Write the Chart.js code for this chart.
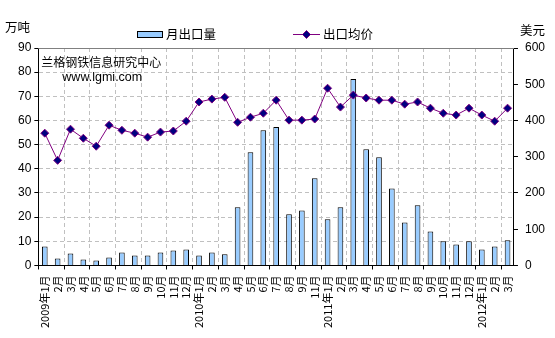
<!DOCTYPE html>
<html>
<head>
<meta charset="utf-8">
<script src="https://cdn.jsdelivr.net/npm/chart.js@4.4.1/dist/chart.umd.min.js"></script>
<style>
    html, body { margin: 0; padding: 0; background: #fff; }
</style>
</head>
<body>
<canvas id="myChart" width="555" height="338"></canvas>
<script>
// DONNEES DU GRAPHIQUE

var mois = ["2009年1月", "2月", "3月", "4月", "5月", "6月", "7月", "8月", "9月", "10月", "11月", "12月",
    "2010年1月", "2月", "3月", "4月", "5月", "6月", "7月", "8月", "9月", "11月",
    "2011年1月", "2月", "3月", "4月", "5月", "6月", "7月", "8月", "9月", "10月", "11月", "12月",
    "2012年1月", "2月", "3月"];

// 月出口量 (万吨)
var exportMois = [7.9, 2.9, 5.0, 2.5, 2.1, 3.3, 5.4, 4.1, 4.1, 5.4, 6.2, 6.6,
    4.1, 5.4, 4.6, 24.1, 46.9, 56.0, 57.3, 21.2, 22.8, 36.1,
    19.1, 24.1, 77.2, 48.1, 44.8, 31.9, 17.8, 24.9, 14.1, 10.0, 8.7, 10.0,
    6.6, 7.9, 10.4];

// 出口均价 (美元)
var prixMoyen = [365, 290, 376, 351, 329, 387, 373, 365, 354, 368, 371, 398,
    451, 459, 464, 395, 409, 420, 456, 401, 401, 404,
    489, 437, 470, 462, 456, 456, 445, 451, 434, 420, 415, 434,
    415, 398, 434];

var echelleGauche = [0, 90, 10];
var echelleDroite = [0, 600, 100];

var police = "'Noto Sans CJK SC', 'Liberation Sans', Arial, sans-serif";

// TEXTES EN PLUS : TITRES DES AXES, LEGENDE, FILIGRANE
var textesPlugin = {
    id: 'textes',
    afterDraw: function(chart) {
        var ctx = chart.ctx;
        var a = chart.chartArea;
        ctx.save();

        // bord du haut gris
        ctx.strokeStyle = '#808080';
        ctx.lineWidth = 1;
        ctx.beginPath();
        ctx.moveTo(a.left, Math.round(a.top) + 0.5);
        ctx.lineTo(a.right, Math.round(a.top) + 0.5);
        ctx.stroke();

        ctx.fillStyle = '#000';
        ctx.textBaseline = 'middle';
        ctx.textAlign = 'left';
        ctx.font = "12.5px " + police;
        ctx.fillText('万吨', 5, 27);
        ctx.fillText('美元', 520, 30);

        ctx.font = "12px " + police;
        ctx.fillText('兰格钢铁信息研究中心', a.left + 3, 62);
        ctx.font = "12.5px 'Liberation Sans', Arial, sans-serif";
        ctx.fillText('www.lgmi.com', a.left + 24, 78);

        // legende
        ctx.font = "12.5px " + police;
        ctx.fillStyle = '#99ccff';
        ctx.fillRect(137, 32, 25, 6);
        ctx.strokeStyle = '#000';
        ctx.strokeRect(137.5, 31.5, 25, 6);
        ctx.fillStyle = '#000';
        ctx.fillText('月出口量', 166, 34);

        ctx.strokeStyle = '#800080';
        ctx.beginPath();
        ctx.moveTo(293, 34.5);
        ctx.lineTo(320, 34.5);
        ctx.stroke();
        ctx.fillStyle = '#000080';
        ctx.beginPath();
        ctx.moveTo(306.5, 30.5);
        ctx.lineTo(310.5, 34.5);
        ctx.lineTo(306.5, 38.5);
        ctx.lineTo(302.5, 34.5);
        ctx.closePath();
        ctx.fill();
        ctx.stroke();
        ctx.fillStyle = '#000';
        ctx.fillText('出口均价', 323, 34);

        ctx.restore();
    }
};

// une ligne verticale sur deux
function grilleX(c) {
    return c.index % 2 === 0 ? '#c0c0c0' : 'rgba(0,0,0,0)';
}
function tickX(c) {
    return c.index % 2 === 0 ? '#000' : 'rgba(0,0,0,0)';
}

new Chart(document.getElementById("myChart"), {
    type: 'bar',
    data: {
        labels: mois,
        datasets: [{
            type: 'line',
            label: '出口均价',
            data: prixMoyen,
            yAxisID: 'y1',
            borderColor: '#800080',
            borderWidth: 1,
            tension: 0,
            pointStyle: 'rectRot',
            pointRadius: 4,
            pointBackgroundColor: '#000080',
            pointBorderColor: '#800080',
            pointBorderWidth: 1,
            order: 1
        }, {
            type: 'bar',
            label: '月出口量',
            data: exportMois,
            yAxisID: 'y',
            backgroundColor: '#99ccff',
            borderColor: '#000',
            borderWidth: 1,
            barPercentage: 0.44,
            categoryPercentage: 1,
            order: 2
        }]
    },
    options: {
        responsive: false,
        animation: false,
        layout: {
            padding: { top: 48, left: 15, right: 3, bottom: 4 }
        },
        plugins: {
            legend: { display: false },
            tooltip: { enabled: false }
        },
        scales: {
            x: {
                offset: true,
                grid: {
                    offset: true,
                    color: grilleX,
                    tickColor: tickX,
                    tickLength: 4
                },
                border: { color: '#000', dash: [4, 3] },
                ticks: {
                    autoSkip: false,
                    minRotation: 90,
                    maxRotation: 90,
                    padding: 6,
                    color: '#000',
                    font: { family: police, size: 11 }
                }
            },
            y: {
                position: 'left',
                min: echelleGauche[0],
                max: echelleGauche[1],
                grid: {
                    color: '#c0c0c0',
                    tickColor: '#000',
                    tickLength: 4
                },
                border: { color: '#000', dash: [4, 3] },
                ticks: {
                    stepSize: echelleGauche[2],
                    padding: 3,
                    color: '#000',
                    font: { family: "'Liberation Sans', Arial, sans-serif", size: 12 }
                }
            },
            y1: {
                position: 'right',
                min: echelleDroite[0],
                max: echelleDroite[1],
                grid: {
                    drawOnChartArea: false,
                    tickColor: '#000',
                    tickLength: 4
                },
                border: { color: '#000' },
                ticks: {
                    stepSize: echelleDroite[2],
                    padding: 7,
                    color: '#000',
                    font: { family: "'Liberation Sans', Arial, sans-serif", size: 12 }
                }
            }
        }
    },
    plugins: [textesPlugin]
});
</script>
</body>
</html>
